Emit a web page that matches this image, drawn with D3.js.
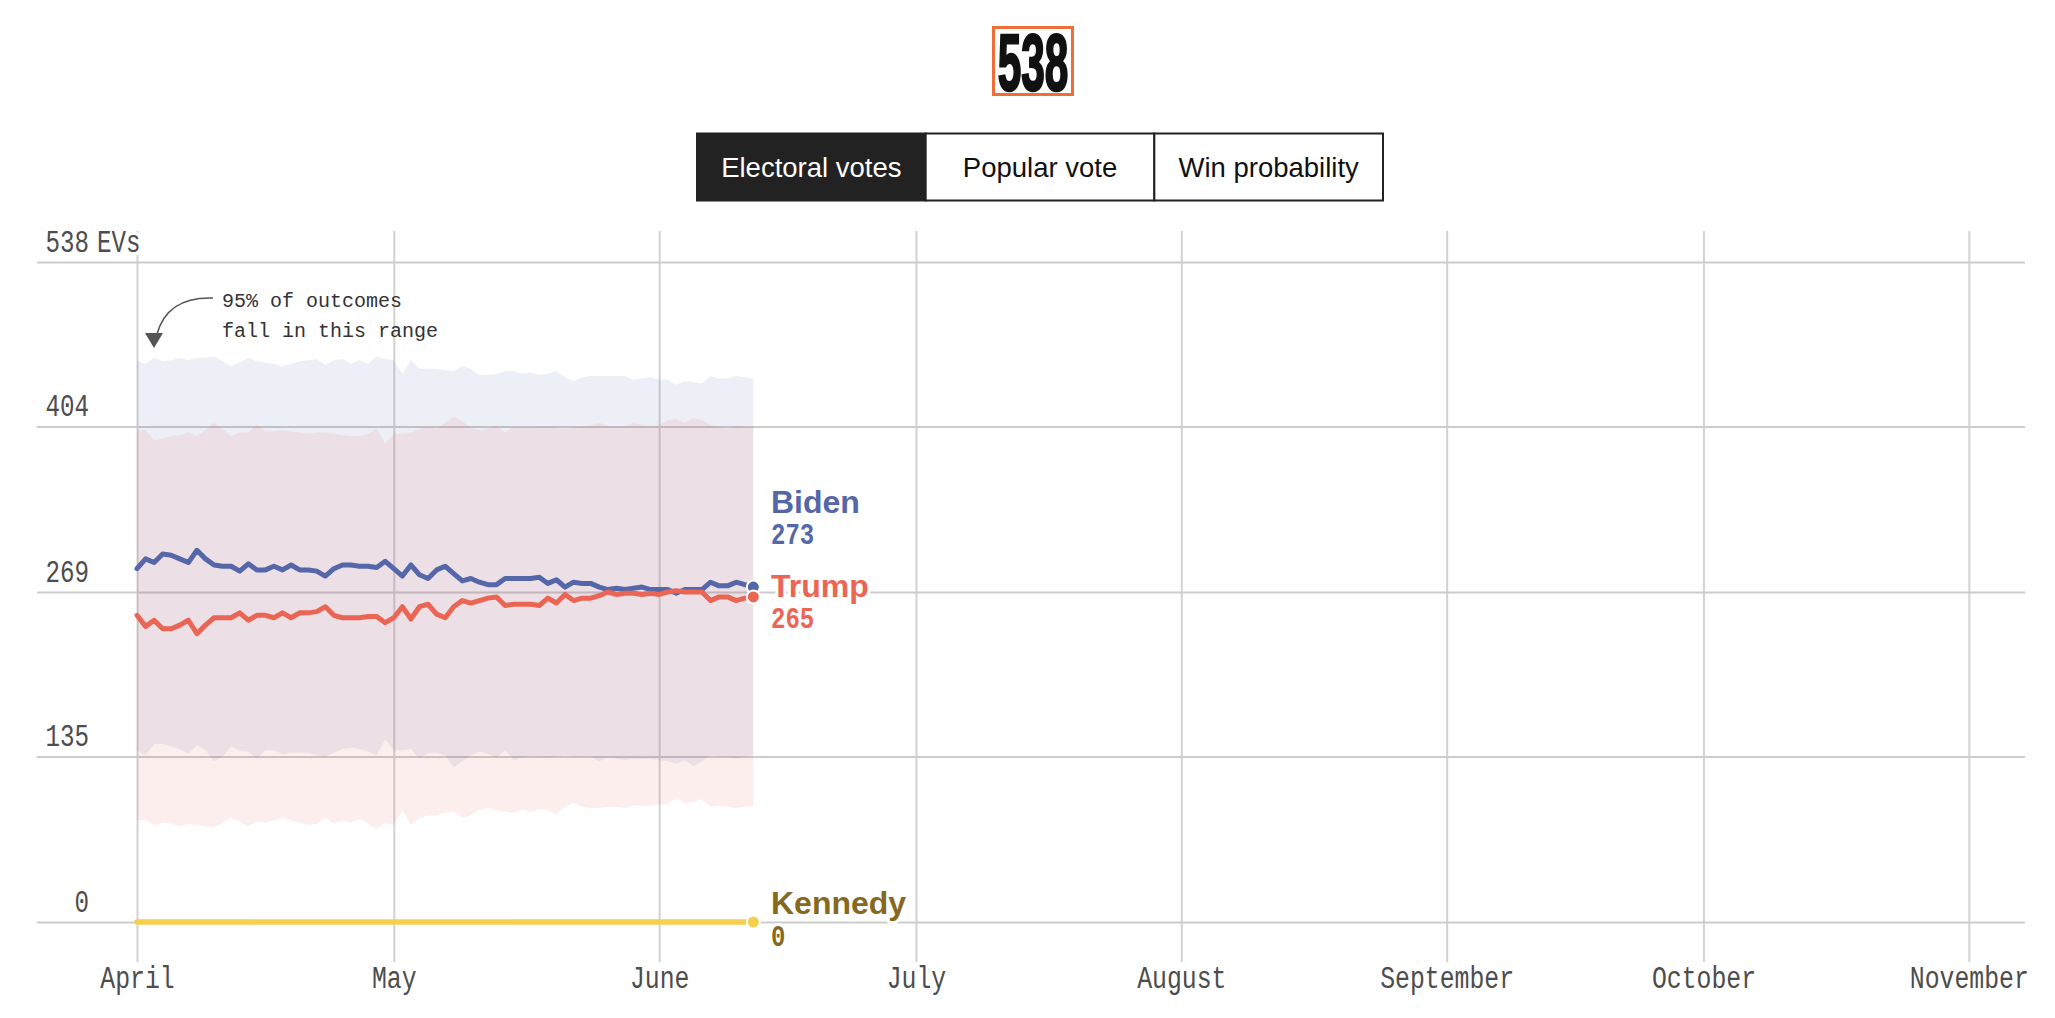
<!DOCTYPE html>
<html><head><meta charset="utf-8">
<script src="https://cdn.jsdelivr.net/npm/d3@7"></script>
<style>
body{margin:0;background:#fff;}
svg{display:block;}
</style></head><body>
<svg id="chart" width="2055" height="1018"></svg>
<script>
// ---------- data ----------
const dates = d3.timeDay.range(new Date(2024, 3, 1), new Date(2024, 5, 13)); // Apr 1 – Jun 12
const bidenEV = [288,296,293,300,299,296,293,303,296,291,
  290,290,286,292,287,287,290,287,291,287,
  287,286,282,288,291,291,290,290,289,294,
  288,282,291,283,280,287,290,284,278,280,
  277,275,275,280,280,280,280,281,276,279,
  273,277,276,276,273,271,272,271,272,273,
  271,271,271,268,271,271,271,277,274,274,
  277,275,273];
const trumpEV = [250,241,246,239,239,242,246,235,242,248,
  248,248,252,246,250,250,248,252,248,252,
  252,253,257,250,248,248,248,249,249,244,
  248,257,247,257,259,251,248,257,262,260,
  262,264,265,258,259,259,259,258,264,260,
  267,262,264,264,266,269,267,268,268,267,
  268,267,269,270,269,269,269,262,265,265,
  262,264,265];
const kennedyEV = [0,0,0,0,0,0,0,0,0,0,0,0,0,0,0,0,0,0,0,0,0,0,0,0,0,0,0,0,0,0,
  0,0,0,0,0,0,0,0,0,0,0,0,0,0,0,0,0,0,0,0,0,0,0,0,0,0,0,0,0,0,
  0,0,0,0,0,0,0,0,0,0,0,0,0];
const bidenHi = [457,455,460,457,458,460,458,460,460,461,
  457,453,456,460,457,456,455,453,455,457,
  458,459,454,458,459,455,458,455,461,459,
  458,447,458,451,451,451,450,449,453,451,
  446,446,447,449,449,447,448,446,447,449,
  444,441,444,445,445,445,445,445,442,443,
  444,442,442,438,441,440,439,445,443,443,
  445,444,443];
const bidenLo = [140,136,145,145,143,141,137,144,140,131,
  135,143,140,139,133,140,140,137,138,138,
  138,136,135,138,141,142,141,139,136,149,
  140,140,141,133,138,138,136,126,131,136,
  139,137,134,140,132,134,135,135,134,135,
  136,135,135,135,131,134,133,132,133,133,
  133,132,131,129,132,127,131,136,135,135,
  133,135,136];
const trumpHi = [401,401,393,394,396,397,399,396,401,407,
  402,396,399,399,406,400,400,401,400,399,
  398,399,399,398,397,396,396,398,402,390,
  398,398,399,402,404,402,407,412,408,403,
  401,402,405,399,404,403,403,404,404,403,
  402,403,404,405,407,404,404,404,407,405,
  404,405,409,410,407,411,409,405,404,402,
  405,404,403];
const trumpLo = [83,83,79,81,80,78,80,79,78,77,
  81,85,82,78,82,81,83,85,83,81,
  79,80,85,80,83,81,84,80,76,81,
  79,91,79,85,87,87,89,90,85,87,
  92,93,91,90,89,92,90,92,91,88,
  94,97,94,93,93,94,94,93,95,95,
  95,96,96,101,97,98,100,94,95,94,
  93,94,95];
const yTicks = [0, 135, 269, 404, 538];
const monthTicks = ["2024-04-01","2024-05-01","2024-06-01","2024-07-01","2024-08-01","2024-09-01","2024-10-01","2024-11-01"];
const tabLabels = ["Electoral votes", "Popular vote", "Win probability"];
const candidateNames = ["Kennedy", "Biden", "Trump"];
const annotationLines = ["95% of outcomes", "fall in this range"];

// ---------- style / layout ----------
const colors = {Biden: "#5567a9", Trump: "#eb6554", Kennedy: "#f6d04d"};
const labelColors = {Biden: "#5567a9", Trump: "#eb6554", Kennedy: "#86691f"};
const labelOffsets = {Biden: [-74, -43], Trump: [0, 31], Kennedy: [-8, 24]};
const seriesByName = {Biden: bidenEV, Trump: trumpEV, Kennedy: kennedyEV};

const svg = d3.select("#chart");
const parse = d3.timeParse("%Y-%m-%d");
const x = d3.scaleTime().domain([new Date(2024, 3, 1), new Date(2024, 10, 5)]).range([137, 137 + 218 * 8.56]);
const y = d3.scaleLinear().domain([0, 538]).range([922, 262]);

// ---------- logo ----------
svg.append("rect").attr("x", 993.5).attr("y", 27.5).attr("width", 79).attr("height", 67)
  .attr("fill", "#fff").attr("stroke", "#f06d38").attr("stroke-width", 3);
svg.append("text").text("538")
  .attr("transform", "translate(1033,89.5) scale(0.53,1)")
  .attr("text-anchor", "middle")
  .attr("font-family", "Liberation Sans, Arial, sans-serif").attr("font-weight", "bold")
  .attr("font-size", 80).attr("fill", "#111").attr("stroke", "#111").attr("stroke-width", 2.5);

// ---------- tabs ----------
const tabX = d3.scaleBand().domain(tabLabels).range([697, 1383]);
const tabs = svg.append("g").selectAll("g").data(tabLabels).join("g");
tabs.append("rect")
  .attr("x", d => tabX(d)).attr("y", 133.5).attr("width", tabX.bandwidth()).attr("height", 67)
  .attr("fill", (d, i) => i === 0 ? "#222" : "#fff").attr("stroke", "#222").attr("stroke-width", 2);
tabs.append("text").text(d => d)
  .attr("x", d => tabX(d) + tabX.bandwidth() / 2).attr("y", 176.5)
  .attr("text-anchor", "middle")
  .attr("font-family", "Liberation Sans, Arial, sans-serif").attr("font-size", 27.5)
  .attr("fill", (d, i) => i === 0 ? "#fff" : "#111");

// ---------- x grid + axis ----------
const xAxis = svg.append("g").attr("transform", "translate(0,231)")
  .call(d3.axisBottom(x).tickValues(monthTicks.map(parse)).tickSize(731).tickFormat(d3.timeFormat("%B")));
xAxis.select(".domain").remove();
xAxis.selectAll(".tick line").attr("stroke", "#d2d2d2").attr("stroke-width", 2);
xAxis.selectAll(".tick text")
  .attr("y", null).attr("dy", null)
  .attr("transform", "translate(0,757) scale(0.8,1)")
  .attr("font-family", "Liberation Mono, monospace").attr("font-size", 31).attr("fill", "#4d4d4d");

// ---------- y grid + axis ----------
const yAxis = svg.append("g").attr("transform", "translate(37,0)")
  .call(d3.axisRight(y).tickValues(yTicks).tickSize(1988).tickFormat(d3.format("d")));
yAxis.select(".domain").remove();
yAxis.selectAll(".tick line").attr("stroke", "#cccccc").attr("stroke-width", 2);
yAxis.selectAll(".tick text")
  .attr("x", 0).attr("dy", null).attr("text-anchor", "end")
  .attr("transform", "translate(52,-11) scale(0.78,1)")
  .attr("font-family", "Liberation Mono, monospace").attr("font-size", 31).attr("fill", "#4d4d4d")
  .attr("stroke", "#fff").attr("stroke-width", 8).attr("paint-order", "stroke").attr("stroke-linejoin", "round");
yAxis.selectAll(".tick").filter(d => d === 538).append("text").text("EVs")
  .attr("text-anchor", "start")
  .attr("transform", "translate(60,-11) scale(0.78,1)")
  .attr("font-family", "Liberation Mono, monospace").attr("font-size", 31).attr("fill", "#4d4d4d")
  .attr("stroke", "#fff").attr("stroke-width", 8).attr("paint-order", "stroke").attr("stroke-linejoin", "round");

// ---------- bands ----------
const band = (lo, hi) => d3.area().x((d, i) => x(dates[i])).y0((d, i) => y(lo[i])).y1((d, i) => y(hi[i]))(dates);
svg.append("path").attr("d", band(bidenLo, bidenHi)).attr("fill", "#5a6aaa").attr("fill-opacity", 0.11);
svg.append("path").attr("d", band(trumpLo, trumpHi)).attr("fill", "#e8675a").attr("fill-opacity", 0.11);

// ---------- lines ----------
const line = vals => d3.line().x((d, i) => x(dates[i])).y((d, i) => y(vals[i]))(dates);
candidateNames.forEach(n => {
  svg.append("path").attr("d", line(seriesByName[n])).attr("fill", "none")
    .attr("stroke", colors[n]).attr("stroke-width", n === "Kennedy" ? 5.5 : 5)
    .attr("stroke-linejoin", "round").attr("stroke-linecap", "round");
});
const last = dates.length - 1;
candidateNames.forEach(n => {
  svg.append("circle").attr("cx", x(dates[last])).attr("cy", y(seriesByName[n][last])).attr("r", 6.5)
    .attr("fill", colors[n]).attr("stroke", "#fff").attr("stroke-width", 2);
});

// ---------- end labels ----------
candidateNames.forEach(n => {
  const vy = y(seriesByName[n][last]);
  const g = svg.append("g");
  g.append("text").text(n)
    .attr("x", 771).attr("y", vy + labelOffsets[n][0])
    .attr("font-family", "Liberation Sans, Arial, sans-serif").attr("font-weight", "bold").attr("font-size", 32)
    .attr("fill", labelColors[n])
    .attr("stroke", "#fff").attr("stroke-width", 6).attr("paint-order", "stroke").attr("stroke-linejoin", "round");
  g.append("text").text(seriesByName[n][last])
    .attr("transform", `translate(771,${vy + labelOffsets[n][1]}) scale(0.8,1)`)
    .attr("font-family", "Liberation Mono, monospace").attr("font-weight", "bold").attr("font-size", 30)
    .attr("fill", labelColors[n])
    .attr("stroke", "#fff").attr("stroke-width", 6).attr("paint-order", "stroke").attr("stroke-linejoin", "round");
});

// ---------- annotation ----------
const ann = svg.append("g");
ann.selectAll("text").data(annotationLines).join("text").text(d => d)
  .attr("x", 222).attr("y", (d, i) => 307 + i * 30)
  .attr("font-family", "Liberation Mono, monospace").attr("font-size", 20).attr("fill", "#333");
ann.append("path").attr("d", "M213,298 C183,297 164,309 157,334")
  .attr("fill", "none").attr("stroke", "#555").attr("stroke-width", 1.6);
ann.append("path").attr("d", "M145,333 L163,333 L154,348 Z").attr("fill", "#555");
</script>
</body></html>
